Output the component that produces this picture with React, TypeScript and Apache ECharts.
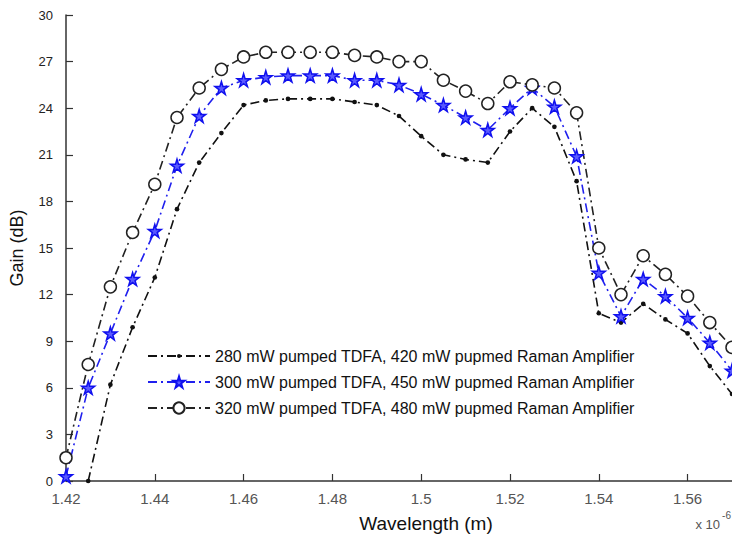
import React, { useEffect, useRef } from "react";
import * as echarts from "echarts";

const wavelengths = [
  1.42, 1.425, 1.43, 1.435, 1.44, 1.445, 1.45, 1.455, 1.46, 1.465, 1.47,
  1.475, 1.48, 1.485, 1.49, 1.495, 1.5, 1.505, 1.51, 1.515, 1.52, 1.525,
  1.53, 1.535, 1.54, 1.545, 1.55, 1.555, 1.56, 1.565, 1.57,
];

const gain280: (number | null)[] = [
  null, 0, 6.2, 9.9, 13.1, 17.5, 20.5, 22.4, 24.2, 24.5, 24.6,
  24.6, 24.6, 24.4, 24.2, 23.5, 22.2, 21.0, 20.7, 20.5, 22.5, 24.0,
  22.8, 19.3, 10.8, 10.2, 11.4, 10.4, 9.5, 7.4, 5.6,
];

const gain300: number[] = [
  0.3, 6.0, 9.5, 13.0, 16.1, 20.3, 23.5, 25.3, 25.8, 26.0, 26.1,
  26.1, 26.1, 25.8, 25.8, 25.5, 24.9, 24.2, 23.4, 22.6, 24.0, 25.3,
  24.1, 20.9, 13.4, 10.6, 13.0, 11.9, 10.5, 8.9, 7.1,
];

const gain320: number[] = [
  1.5, 7.5, 12.5, 16.0, 19.1, 23.4, 25.3, 26.5, 27.3, 27.6, 27.6,
  27.6, 27.6, 27.4, 27.3, 27.0, 27.0, 25.8, 25.1, 24.3, 25.7, 25.5,
  25.3, 23.7, 15.0, 12.0, 14.5, 13.3, 11.9, 10.2, 8.6,
];

const seriesNames = [
  "280 mW pumped TDFA, 420 mW pupmed Raman Amplifier",
  "300 mW pumped TDFA, 450 mW pupmed Raman Amplifier",
  "320 mW pumped TDFA, 480 mW pupmed Raman Amplifier",
];

const yTicks = [0, 3, 6, 9, 12, 15, 18, 21, 24, 27, 30];
const xTickLabels = ["1.42", "1.44", "1.46", "1.48", "1.5", "1.52", "1.54", "1.56"];

const STAR =
  "path://M50,0 L61,35 L98,35 L68,57 L79,91 L50,70 L21,91 L32,57 L2,35 L39,35 Z";
// small dot inside a padded 100x100 box, so the legend icon stays small
const DOT =
  "path://M0,0 M100,100 M68,50 A18,18 0 1 1 32,50 A18,18 0 1 1 68,50 Z";

const pairs = (ys: (number | null)[]) =>
  wavelengths.map((x, i) => [x, ys[i] === null ? "-" : ys[i]]);

export default function App() {
  const ref = useRef<HTMLDivElement>(null);

  useEffect(() => {
    if (!ref.current) return;
    const chart = echarts.init(ref.current, undefined, { renderer: "svg" });
    const font = "Liberation Sans, Arial, Helvetica, sans-serif";
    const dash = [9, 4, 2, 4];
    chart.setOption({
      animation: false,
      backgroundColor: "#ffffff",
      textStyle: { fontFamily: font },
      grid: { left: 66, right: 0, top: 15, bottom: 54, containLabel: false },
      legend: {
        orient: "vertical",
        left: 142,
        top: 343,
        itemWidth: 62,
        itemHeight: 14,
        itemGap: 10,
        textStyle: { fontSize: 16, color: "#111", fontFamily: font },
        data: seriesNames,
      },
      xAxis: {
        type: "value",
        min: 1.42,
        max: 1.57,
        interval: 0.02,
        name: "Wavelength (m)",
        nameLocation: "middle",
        nameGap: 33,
        nameTextStyle: {
          fontSize: 19,
          color: "#111",
          fontFamily: font,
          padding: [0, 0, 0, 54],
        },
        axisLine: { lineStyle: { color: "#333", width: 1.5 } },
        axisTick: { inside: true, length: 7, lineStyle: { color: "#333", width: 1.2 } },
        axisLabel: {
          fontSize: 15,
          color: "#555",
          margin: 10,
          showMaxLabel: false,
          formatter: (v: number) => {
            const idx = Math.round((v - 1.42) / 0.02);
            if (Math.abs(v - (1.42 + idx * 0.02)) > 1e-6) return "";
            return xTickLabels[idx] ?? "";
          },
        },
        splitLine: { show: false },
      },
      yAxis: {
        type: "value",
        min: 0,
        max: 30,
        interval: 3,
        name: "Gain (dB)",
        nameLocation: "middle",
        nameGap: 40,
        nameRotate: 90,
        nameTextStyle: { fontSize: 18, color: "#111", fontFamily: font },
        axisLine: { show: true, lineStyle: { color: "#333", width: 1.5 } },
        axisTick: { show: true, inside: true, length: 7, lineStyle: { color: "#333", width: 1.2 } },
        axisLabel: {
          fontSize: 13,
          color: "#222",
          margin: 13,
          formatter: (v: number) => {
            const t = yTicks.find((k) => Math.abs(k - v) < 1e-6);
            return t === undefined ? "" : String(t);
          },
        },
        splitLine: { show: false },
      },
      graphic: [
        {
          type: "text",
          right: 12,
          top: 518,
          style: { text: "x 10", fontSize: 13, fill: "#555", fontFamily: font },
        },
        {
          type: "text",
          right: 1,
          top: 510,
          style: { text: "-6", fontSize: 10, fill: "#555", fontFamily: font },
        },
      ],
      series: [
        {
          name: seriesNames[0],
          type: "line",
          data: pairs(gain280),
          symbol: DOT,
          symbolSize: 13,
          clip: true,
          connectNulls: false,
          itemStyle: { color: "#111", borderWidth: 0 },
          lineStyle: { color: "#111", width: 1.6, type: dash },
        },
        {
          name: seriesNames[1],
          type: "line",
          data: pairs(gain300),
          symbol: STAR,
          symbolSize: 13,
          clip: true,
          itemStyle: { color: "#5a5aff", borderColor: "#1010ee", borderWidth: 1.5 },
          lineStyle: { color: "#2020ee", width: 1.6, type: dash },
        },
        {
          name: seriesNames[2],
          type: "line",
          data: pairs(gain320),
          symbol: "circle",
          symbolSize: 12,
          clip: true,
          itemStyle: { color: "#ffffff", borderColor: "#222", borderWidth: 1.5 },
          lineStyle: { color: "#222", width: 1.6, type: dash },
        },
      ],
    });
    return () => chart.dispose();
  }, []);

  return (
    <div
      ref={ref}
      style={{ width: 732, height: 538, position: "absolute", left: 0, top: 0 }}
    />
  );
}
